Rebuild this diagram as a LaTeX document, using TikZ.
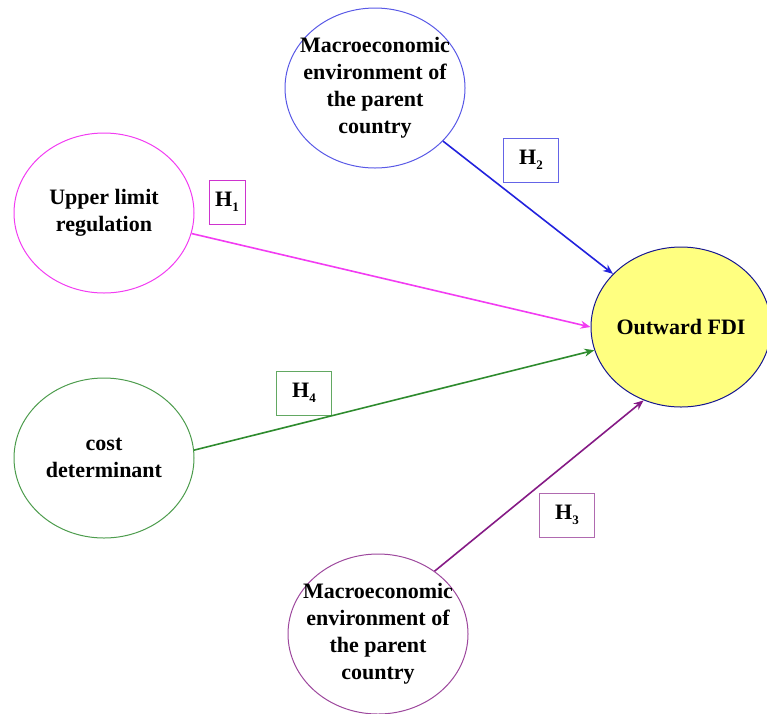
\documentclass[tikz,border=0pt]{standalone}
\usepackage{fontspec}
\setmainfont{Liberation Serif}
\usetikzlibrary{arrows.meta,shapes.geometric}
\definecolor{HypBlue}{HTML}{2222DD}
\definecolor{HypMag}{HTML}{F23CF2}
\definecolor{HypGreen}{HTML}{2E8B2E}
\definecolor{HypPurple}{HTML}{851A85}
\definecolor{HypYellow}{HTML}{FFFF80}
\newcommand{\hsub}[1]{\raisebox{-5pt}{\fontsize{13}{13}\selectfont #1}}

\begin{document}
\begin{tikzpicture}[x=1pt,y=-1pt,
  bub/.style={ellipse,draw=#1,line width=1pt,minimum width=180pt,minimum height=160pt,inner sep=0pt},
  txt/.style={align=center,font=\fontsize{22}{27}\selectfont\bfseries},
  hyp/.style={draw=#1,line width=1pt,minimum width=55pt,minimum height=44pt,inner sep=0pt,font=\fontsize{22}{27}\selectfont\bfseries},
  arr/.style={-{Stealth[length=10pt,width=8pt]},draw=#1,line width=1.6pt}]
  \useasboundingbox (0,0) rectangle (767,713);
  \node[bub=HypBlue!75,label={[txt]center:Macroeconomic\\environment of\\the parent\\country}] (macroT) at (375,88) {};
  \node[bub=HypMag,label={[txt]center:Upper limit\\regulation}] (upper) at (104,213) {};
  \node[bub=HypGreen!85,label={[txt]center:cost\\determinant}] (cost) at (104,458) {};
  \node[bub=HypPurple!80,label={[txt]center:Macroeconomic\\environment of\\the parent\\country}] (macroB) at (378,634) {};
  \node[bub=HypBlue!65!black,fill=HypYellow,label={[txt]center:Outward FDI}] (fdi) at (681,327) {};
  % hypotheses
  \node[hyp=HypMag!85!black,minimum width=36pt] (h1) at (227,202) {H\hsub{1}};
  \node[hyp=HypBlue!70] (h2) at (531,160) {H\hsub{2}};
  \node[hyp=HypGreen!75] (h4) at (304,393) {H\hsub{4}};
  \node[hyp=HypPurple!65] (h3) at (567,515) {H\hsub{3}};
  \draw[arr=HypBlue] (macroT) -- (fdi);
  \draw[arr=HypMag] (upper) -- (fdi.west);
  \draw[arr=HypGreen] (cost.5) -- (fdi.195);
  \draw[arr=HypPurple] (macroB.48) -- (fdi.243);
\end{tikzpicture}
\end{document}
